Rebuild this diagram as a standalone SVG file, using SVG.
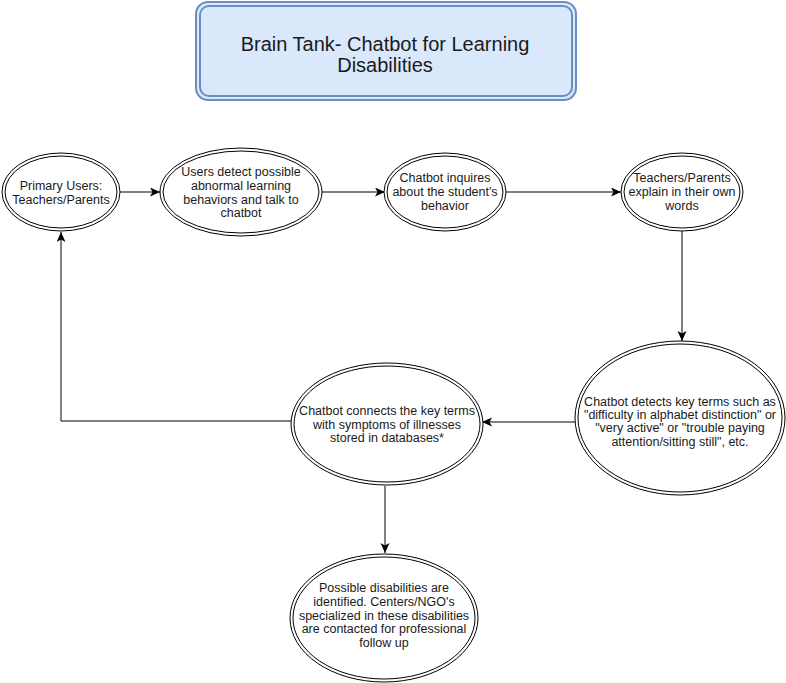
<svg xmlns="http://www.w3.org/2000/svg" width="786" height="683" viewBox="0 0 786 683">
<style>
.o{fill:#ffffff;stroke:#000000;stroke-width:1}
.i{fill:none;stroke:#000000;stroke-width:1}
.t{font-family:"Liberation Sans",Arial,sans-serif;font-size:12.5px;fill:#1a1a1a;text-anchor:middle}
.tt{font-family:"Liberation Sans",Arial,sans-serif;font-size:20px;fill:#1a1a1a;text-anchor:middle}
.c{fill:none;stroke:#000000;stroke-width:1}
</style>
<defs>
<marker id="ar" markerUnits="userSpaceOnUse" markerWidth="11" markerHeight="10" refX="10" refY="4.5" orient="auto">
<path d="M0,0 L10,4.5 L0,9 L2.5,4.5 z" fill="#000000"/>
</marker>
</defs>
<rect width="786" height="683" fill="#ffffff"/>
<g id="title">
<rect x="196" y="2" width="380" height="98" rx="12" fill="#dae8fc" stroke="#6c8ebf" stroke-width="2"/>
<rect x="200" y="6" width="372" height="90" rx="9" fill="#dae8fc" stroke="#6c8ebf" stroke-width="2"/>
<text class="tt" x="385" y="51">Brain Tank- Chatbot for Learning</text>
<text class="tt" x="385" y="72">Disabilities</text>
</g>
<g id="connectors">
<line class="c" x1="120" y1="192" x2="160" y2="192" marker-end="url(#ar)"/>
<line class="c" x1="322" y1="192" x2="385" y2="192" marker-end="url(#ar)"/>
<line class="c" x1="506" y1="192" x2="621" y2="192" marker-end="url(#ar)"/>
<line class="c" x1="682" y1="231" x2="682" y2="341" marker-end="url(#ar)"/>
<line class="c" x1="575" y1="422" x2="482" y2="422" marker-end="url(#ar)"/>
<path class="c" d="M291,421 L61,421 L61,232" marker-end="url(#ar)"/>
<line class="c" x1="385" y1="486" x2="385" y2="553" marker-end="url(#ar)"/>
</g>
<g id="n1">
<ellipse class="o" cx="61" cy="192" rx="59" ry="39"/>
<ellipse class="i" cx="61" cy="192" rx="56" ry="36"/>
<text class="t" x="61" y="189.5">Primary Users:</text>
<text class="t" x="61" y="203.5">Teachers/Parents</text>
</g>
<g id="n2">
<ellipse class="o" cx="241" cy="192" rx="81" ry="44"/>
<ellipse class="i" cx="241" cy="192" rx="78" ry="41"/>
<text class="t" x="241" y="176">Users detect possible</text>
<text class="t" x="241" y="190">abnormal learning</text>
<text class="t" x="241" y="203.5">behaviors and talk to</text>
<text class="t" x="241" y="217">chatbot</text>
</g>
<g id="n3">
<ellipse class="o" cx="445" cy="192" rx="61" ry="39"/>
<ellipse class="i" cx="445" cy="192" rx="58" ry="36"/>
<text class="t" x="445" y="182">Chatbot inquires</text>
<text class="t" x="445" y="196">about the student's</text>
<text class="t" x="445" y="210">behavior</text>
</g>
<g id="n4">
<ellipse class="o" cx="682" cy="192" rx="61" ry="39"/>
<ellipse class="i" cx="682" cy="192" rx="58" ry="36"/>
<text class="t" x="682" y="182">Teachers/Parents</text>
<text class="t" x="682" y="196">explain in their own</text>
<text class="t" x="682" y="210">words</text>
</g>
<g id="n5">
<ellipse class="o" cx="680" cy="418" rx="105" ry="77"/>
<ellipse class="i" cx="680" cy="418" rx="102" ry="74"/>
<text class="t" x="680" y="405.5">Chatbot detects key terms such as</text>
<text class="t" x="680" y="419">"difficulty in alphabet distinction" or</text>
<text class="t" x="680" y="432">"very active" or "trouble paying</text>
<text class="t" x="680" y="445.5">attention/sitting still", etc.</text>
</g>
<g id="n6">
<ellipse class="o" cx="387" cy="424" rx="96" ry="61"/>
<ellipse class="i" cx="387" cy="424" rx="93" ry="58"/>
<text class="t" x="387" y="414.5">Chatbot connects the key terms</text>
<text class="t" x="387" y="428.5">with symptoms of illnesses</text>
<text class="t" x="387" y="442">stored in databases*</text>
</g>
<g id="n7">
<ellipse class="o" cx="384" cy="618" rx="94" ry="64"/>
<ellipse class="i" cx="384" cy="618" rx="91" ry="61"/>
<text class="t" x="384" y="592">Possible disabilities are</text>
<text class="t" x="384" y="606">identified. Centers/NGO's</text>
<text class="t" x="384" y="619.5">specialized in these disabilities</text>
<text class="t" x="384" y="633">are contacted for professional</text>
<text class="t" x="384" y="646.5">follow up</text>
</g>
</svg>
